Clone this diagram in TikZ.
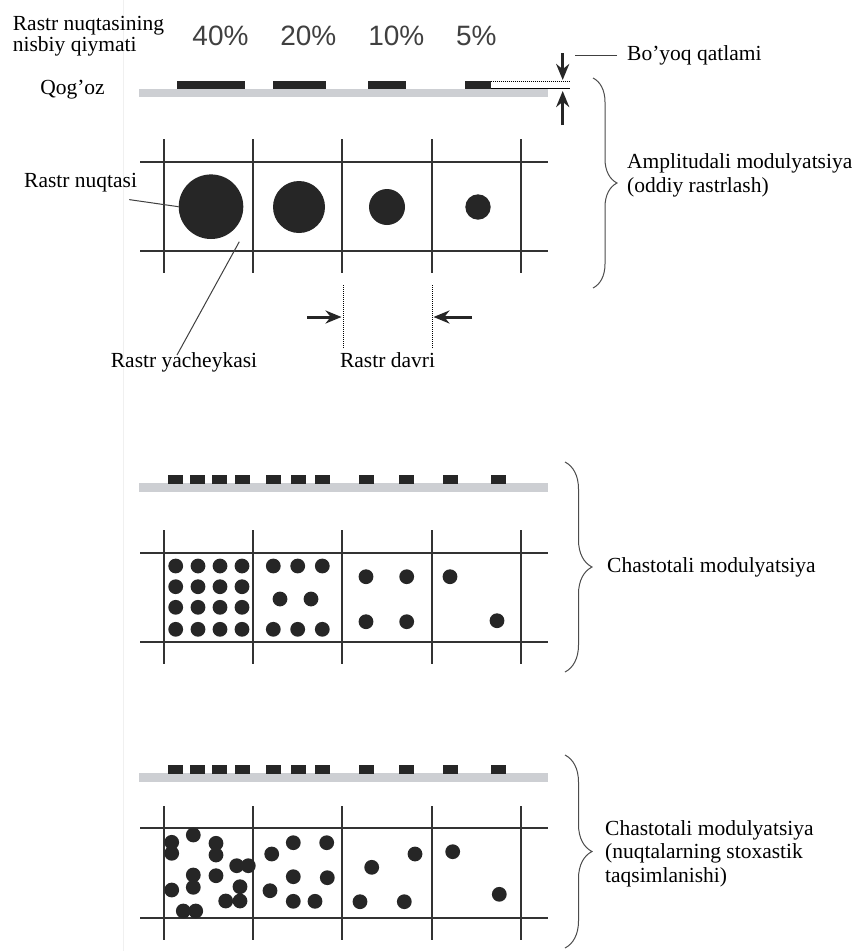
\documentclass[tikz,border=0pt]{standalone}
\usepackage{fontspec}
\setmainfont{Liberation Serif}
\newfontfamily\pctfont{Liberation Sans}
\usetikzlibrary{arrows.meta,decorations.pathreplacing}

\definecolor{papergray}{RGB}{205,207,211}
\definecolor{inkblack}{RGB}{38,38,38}

\begin{document}
\begin{tikzpicture}[x=1pt, y=-1pt, >={Stealth[length=16pt,width=13pt]},
        every node/.style={inner sep=0pt, font=\fontsize{21.5}{24}\selectfont},
        pct/.style={anchor=base, font=\pctfont\fontsize{28}{30}\selectfont, text=black!75},
        gridline/.style={line width=1.3pt, black!80},
        leader/.style={line width=1pt, black!75},
        fineline/.style={line width=1pt, dash pattern=on 1pt off 1pt},
        bigdot/.style={circle, fill=inkblack, inner sep=0pt},
        bracket/.style={decorate, decoration={brace, amplitude=#1}, line width=1pt, black!70},
        fatarrow/.style={->, line width=3pt, inkblack}]

    \fill[white] (0,0) rectangle (854,951);
    \useasboundingbox (0,0) rectangle (854,951);
    \draw[black!6, line width=1pt] (123,0) -- (123,951);

    % --- podpisi sverkhu ---
    \node[anchor=west, align=left, font=\fontsize{21.5}{20.5}\selectfont] (relval) at (12.7,36) {Rastr nuqtasining\\nisbiy qiymati};
    \node[pct] (p40) at (220.5,45) {40\%};
    \node[pct] (p20) at (308.3,45) {20\%};
    \node[pct] (p10) at (396.3,45) {10\%};
    \node[pct] (p5)  at (476.3,45) {5\%};
    \node (paper) at (72.5,90) {Qog'oz};
    \node[anchor=west] (boyoq) at (627,55) {Bo'yoq qatlami};

    % --- amplitudnaya modulyatsiya: bumaga i kraska ---
    \fill[papergray] (139.3,89.3) rectangle (548,97.3);
    \fill[inkblack] (177.3,80.7) rectangle (245,89.3);
    \fill[inkblack] (273.3,80.7) rectangle (326,89.3);
    \fill[inkblack] (367.7,80.7) rectangle (405.7,89.3);
    \fill[inkblack] (465,80.7) rectangle (490.7,89.3);
    \draw[fineline] (490.7,81) -- (570,81);
    \draw[line width=1pt] (490.7,88.3) -- (570,88.3);

    \coordinate (inktop) at (562.7,53);
    \coordinate (inktip) at (562.7,80);
    \coordinate (papbot) at (562.7,125);
    \coordinate (paptip) at (562.7,91);
    \draw[fatarrow] (inktop) -- (inktip);
    \draw[fatarrow] (papbot) -- (paptip);
    \draw[leader] ([xshift=-10pt]boyoq.west) -- ++(-42,0);

    % --- setka 1 ---
    \foreach \x in {164,253,342,432,521}
        \draw[gridline] (\x,139) -- (\x,273);
    \draw[gridline] (140,162) -- (548,162);
    \draw[gridline] (140,251) -- (548,251);

    \node[bigdot, minimum size=64.6pt] (d40) at (211,206.7) {};
    \node[bigdot, minimum size=52pt]   (d20) at (299,207) {};
    \node[bigdot, minimum size=36pt]   (d10) at (387,207) {};
    \node[bigdot, minimum size=25.4pt] (d5)  at (478,207) {};

    \node[anchor=west] (nuqta) at (24,183) {Rastr nuqtasi};
    \draw[leader] ([shift={(-8,7)}]nuqta.south east) -- (d40.west);

    \node (yachey) at (184,362) {Rastr yacheykasi};
    \coordinate (cellpt) at (239.3,241.7);
    \draw[leader] ([xshift=-7pt,yshift=-3pt]yachey.north) -- (cellpt);

    % --- period rastra ---
    \node (davri) at (387.5,360) {Rastr davri};
    \coordinate (pl) at (343,285);
    \coordinate (pr) at (432,285);
    \coordinate (plin) at (307,317);
    \coordinate (plend) at (341.5,317);
    \coordinate (prin) at (472,317);
    \coordinate (prend) at (433.5,317);
    \draw[fineline] (pl) -- ++(0,63);
    \draw[fineline] (pr) -- ++(0,63);
    \draw[fatarrow] (plin) -- (plend);
    \draw[fatarrow] (prin) -- (prend);

    \draw[bracket=24pt] (593,78) -- (593,288);
    \node[anchor=west, align=left] (amtext) at (627,175) {Amplitudali modulyatsiya\\(oddiy rastrlash)};

    % --- chastotnaya modulyatsiya ---
    \foreach \yt in {475,765} {
        \fill[papergray] (139.3,\yt+8.3) rectangle (548,\yt+17);
        \foreach \s in {167.7,190,212.3,234.7,265.7,291,315,358.7,399.3,442.7,490.5}
            \fill[inkblack] (\s,\yt) rectangle (\s+15,\yt+8.7);
    }

    % setka 2
    \foreach \x in {164,253,342,432,521}
        \draw[gridline] (\x,530) -- (\x,664);
    \draw[gridline] (140,553) -- (548,553);
    \draw[gridline] (140,642) -- (548,642);

    \foreach \x in {175.7,198,220,242}
        \foreach \y in {566,586.7,607.3,629.3}
            \fill[inkblack] (\x,\y) circle (7.4);
    \foreach \p in {(273.3,566),(297.7,566),(322.3,566),(280,599),(311,599),
                    (273.3,629.3),(297.7,629.3),(322.3,629.3),
                    (366,576.7),(406.7,576.7),(366,621.7),(406.7,621.7),
                    (450,576.7),(497,620.7)}
        \fill[inkblack] \p circle (7.4);

    \draw[bracket=27pt] (565,462) -- (565,672);
    \node[anchor=west] (fmtext) at (607,567) {Chastotali modulyatsiya};

    % setka 3
    \foreach \x in {164,253,342,432,521}
        \draw[gridline] (\x,806) -- (\x,940);
    \draw[gridline] (140,828) -- (548,828);
    \draw[gridline] (140,918) -- (548,918);

    \foreach \p in {(171.7,842.3),(171.7,853.3),(193.3,835),(216,843.3),(216,855),
                    (236.7,865.7),(248.3,865.7),(193.3,875),(193.3,887.3),(216,875.7),
                    (171.7,890),(240,886.7),(225.7,901),(240,901),(183.3,911),(195.7,911),
                    (271.7,854),(293.3,842.7),(326.7,842.7),(293.3,876.7),(327.3,877.7),
                    (270,890.7),(293.3,901.3),(315,901.3),
                    (371.7,867.3),(415,854),(360,901.7),(404.3,901.7),
                    (452.7,851.7),(499.3,894.3)}
        \fill[inkblack] \p circle (7.4);

    \draw[bracket=27pt] (565,755) -- (565,948);
    \node[anchor=west, align=left, font=\fontsize{21.5}{23.5}\selectfont] (stoxtext) at (605,853.5)
        {Chastotali modulyatsiya\\(nuqtalarning stoxastik\\taqsimlanishi)};

\end{tikzpicture}
\end{document}
